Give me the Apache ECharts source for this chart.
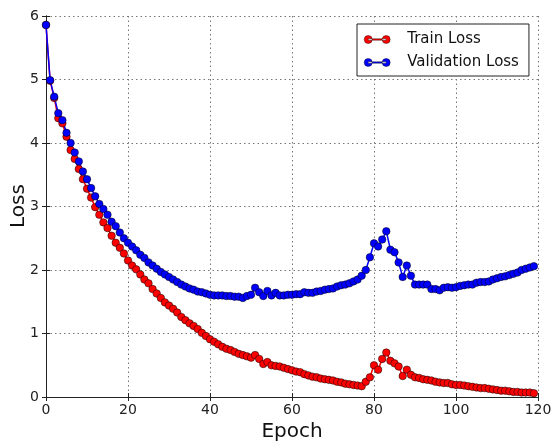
<!DOCTYPE html>
<html>
<head>
<meta charset="utf-8">
<script src="https://cdn.jsdelivr.net/npm/echarts@6/dist/echarts.min.js"></script>
<style>
  html, body { margin: 0; padding: 0; background: #fff; }
  #chart { width: 551px; height: 441px; }
</style>
</head>
<body>
<div id="chart"></div>
<script>
// Loss per epoch (epochs 0..119)
const trainLoss = [
  5.86, 4.98, 4.71, 4.39, 4.31, 4.10, 3.89, 3.75, 3.59, 3.43,
  3.28, 3.14, 2.99, 2.87, 2.75, 2.66, 2.54, 2.43, 2.35, 2.26,
  2.15, 2.07, 2.01, 1.93, 1.85, 1.79, 1.70, 1.63, 1.56, 1.49,
  1.44, 1.39, 1.33, 1.26, 1.21, 1.16, 1.12, 1.07, 1.01, 0.96,
  0.91, 0.87, 0.83, 0.79, 0.76, 0.74, 0.71, 0.68, 0.66, 0.64,
  0.62, 0.66, 0.60, 0.52, 0.55, 0.50, 0.49, 0.48, 0.46, 0.44,
  0.42, 0.40, 0.39, 0.36, 0.34, 0.32, 0.31, 0.29, 0.28, 0.27,
  0.26, 0.24, 0.23, 0.21, 0.20, 0.19, 0.18, 0.17, 0.24, 0.31,
  0.50, 0.43, 0.60, 0.70, 0.57, 0.53, 0.48, 0.33, 0.43, 0.35,
  0.31, 0.30, 0.28, 0.27, 0.26, 0.24, 0.23, 0.22, 0.22, 0.20,
  0.19, 0.19, 0.18, 0.17, 0.16, 0.15, 0.14, 0.14, 0.13, 0.12,
  0.11, 0.10, 0.10, 0.09, 0.08, 0.08, 0.07, 0.07, 0.07, 0.06
];
const validationLoss = [
  5.86, 4.99, 4.73, 4.47, 4.36, 4.16, 4.00, 3.85, 3.71, 3.55,
  3.43, 3.29, 3.16, 3.04, 2.96, 2.87, 2.76, 2.69, 2.59, 2.50,
  2.43, 2.37, 2.31, 2.24, 2.19, 2.12, 2.07, 2.02, 1.97, 1.93,
  1.89, 1.85, 1.81, 1.77, 1.74, 1.71, 1.69, 1.66, 1.65, 1.63,
  1.61, 1.60, 1.60, 1.60, 1.59, 1.59, 1.58, 1.58, 1.56, 1.59,
  1.61, 1.72, 1.65, 1.59, 1.67, 1.60, 1.64, 1.60, 1.60, 1.61,
  1.61, 1.62, 1.62, 1.65, 1.64, 1.64, 1.66, 1.67, 1.69, 1.70,
  1.71, 1.74, 1.76, 1.77, 1.79, 1.82, 1.85, 1.91, 2.00, 2.20,
  2.42, 2.37, 2.48, 2.61, 2.32, 2.28, 2.12, 1.89, 2.07, 1.91,
  1.77, 1.77, 1.77, 1.77, 1.70, 1.70, 1.68, 1.72, 1.73, 1.72,
  1.73, 1.75, 1.76, 1.77, 1.77, 1.80, 1.81, 1.81, 1.82, 1.85,
  1.87, 1.89, 1.90, 1.92, 1.94, 1.96, 2.00, 2.02, 2.04, 2.06
];
const seriesNames = ['Train Loss', 'Validation Loss'];
const seriesColors = ['#ff0000', '#0000ff'];
const xTicks = [0, 20, 40, 60, 80, 100, 120];
const yTicks = [0, 1, 2, 3, 4, 5, 6];
const xTitle = 'Epoch';
const yTitle = 'Loss';

const FONT = '"DejaVu Sans", sans-serif';
const toPairs = arr => arr.map((v, i) => [i, v]);

// legend glyph: a short line with a marker at each end
const legendIcon = 'path://M4,3.3L22,3.3L22,4.7L4,4.7Z' +
  'M0,4A4,4,0,1,0,8,4A4,4,0,1,0,0,4Z' +
  'M18,4A4,4,0,1,0,26,4A4,4,0,1,0,18,4Z';

const gridLine = { show: true, lineStyle: { color: '#777', type: [1.5, 3], width: 1 } };
const hiddenSide = {
  axisLabel: { show: false },
  splitLine: { show: false },
  axisLine: { show: true, lineStyle: { color: '#222', width: 1 } },
  axisTick: { show: true, inside: true, length: 4, lineStyle: { color: '#222' } }
};

const chart = echarts.init(document.getElementById('chart'), null, { renderer: 'canvas' });
chart.setOption({
  animation: false,
  backgroundColor: '#fff',
  grid: { left: 46, right: 13, top: 16, bottom: 44, containLabel: false, outerBoundsMode: 'none' },
  // rotated y-axis title, placed beside the tick labels
  graphic: [{
    type: 'text',
    x: 19, y: 206,
    rotation: Math.PI / 2,
    style: {
      text: yTitle, fontFamily: FONT, fontSize: 20, fill: '#111',
      align: 'center', verticalAlign: 'middle'
    }
  }],
  legend: {
    orient: 'vertical',
    left: 357, top: 24,
    padding: [8, 10, 6, 7],
    itemGap: 8,
    itemWidth: 26, itemHeight: 8,
    backgroundColor: '#fff',
    borderColor: '#222', borderWidth: 1, borderRadius: 0,
    textStyle: { fontFamily: FONT, fontSize: 15, color: '#111', padding: [0, 0, 0, 12] },
    data: seriesNames.map((n, i) => ({ name: n, icon: legendIcon, itemStyle: { color: seriesColors[i], borderColor: '#000', borderWidth: 0.4 } }))
  },
  xAxis: [{
    type: 'value', min: xTicks[0], max: xTicks[xTicks.length - 1], interval: 20,
    name: xTitle, nameLocation: 'middle', nameGap: 25,
    nameTextStyle: { fontFamily: FONT, fontSize: 20, color: '#111' },
    axisLine: { show: true, onZero: false, lineStyle: { color: '#222', width: 1 } },
    axisTick: { show: true, inside: true, length: 4, lineStyle: { color: '#222' } },
    axisLabel: { fontFamily: FONT, fontSize: 14, color: '#222', margin: 6,
      formatter: v => xTicks.includes(v) ? String(v) : '' },
    splitLine: gridLine
  }, Object.assign({
    type: 'value', min: xTicks[0], max: xTicks[xTicks.length - 1], interval: 20, position: 'top'
  }, hiddenSide)],
  yAxis: [{
    type: 'value', min: yTicks[0], max: yTicks[yTicks.length - 1], interval: 1,
    axisLine: { show: true, onZero: false, lineStyle: { color: '#222', width: 1 } },
    axisTick: { show: true, inside: true, length: 4, lineStyle: { color: '#222' } },
    axisLabel: { fontFamily: FONT, fontSize: 14, color: '#222', margin: 7,
      formatter: v => yTicks.includes(v) ? String(v) : '' },
    splitLine: gridLine
  }, Object.assign({
    type: 'value', min: yTicks[0], max: yTicks[yTicks.length - 1], interval: 1, position: 'right'
  }, hiddenSide)],
  series: [trainLoss, validationLoss].map((arr, i) => ({
    name: seriesNames[i],
    type: 'line',
    xAxisIndex: 0, yAxisIndex: 0,
    data: toPairs(arr),
    symbol: 'circle',
    symbolSize: 7.5,
    showAllSymbol: true,
    clip: false,
    lineStyle: { color: seriesColors[i], width: 1.5 },
    itemStyle: { color: seriesColors[i], borderColor: '#000', borderWidth: 0.5 }
  }))
});
</script>
</body>
</html>
